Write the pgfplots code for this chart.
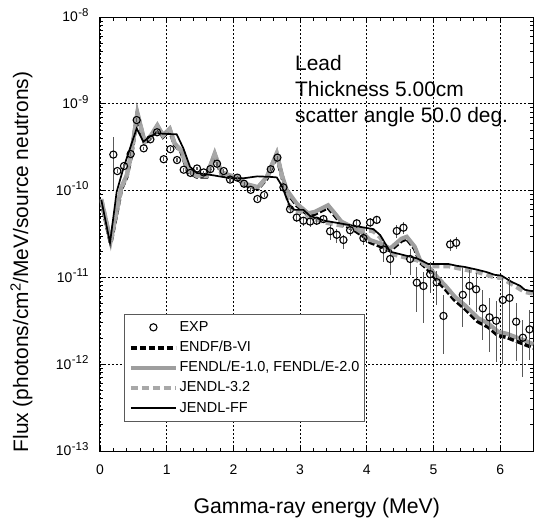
\documentclass[border=0pt]{standalone}
\usepackage{fontspec}
\setmainfont{Liberation Sans}
\usepackage{pgfplots}
\usepackage{pgfplotstable}
\pgfplotsset{compat=1.18}
\definecolor{lgray}{HTML}{9E9E9E}
\definecolor{dgray}{HTML}{A8A8A8}
\newcommand\tl[1]{10\kern0.5bp\smash{\raisebox{5.5bp}{\fontsize{11.5}{13}\selectfont #1}}}
\pgfplotsset{
  exp legend/.style={legend image code/.code={\draw[mark repeat=2,mark phase=2,##1] plot coordinates {(0bp,0bp) (22.5bp,0bp) (45bp,0bp)};}},
  line legend45/.style={legend image code/.code={\draw[##1] (0bp,0bp) -- (45bp,0bp);}},
}

\pgfplotstableread{
x y ep em
0.20 2.6e-10 1.58e-10 1.58e-10
0.26 1.68e-10 8e-12 8e-12
0.36 1.92e-10 9e-12 9e-12
0.46 2.64e-10 1.2e-11 1.2e-11
0.55 6.5e-10 3e-11 3e-11
0.655 3.07e-10 1.5e-11 1.5e-11
0.755 3.9e-10 1.8e-11 1.8e-11
0.855 4.7e-10 2.2e-11 2.2e-11
0.955 2.3e-10 1.1e-11 1.1e-11
1.055 3.0e-10 1.4e-11 1.4e-11
1.155 2.25e-10 1.1e-11 1.1e-11
1.255 1.74e-10 8e-12 8e-12
1.355 1.6e-10 8e-12 8e-12
1.455 1.8e-10 9e-12 9e-12
1.555 1.62e-10 8e-12 8e-12
1.655 1.77e-10 9e-12 9e-12
1.755 2.04e-10 1e-11 1e-11
1.855 1.68e-10 8e-12 8e-12
1.95 1.34e-10 7e-12 7e-12
2.06 1.41e-10 7e-12 7e-12
2.16 1.2e-10 6e-12 6e-12
2.26 1.02e-10 5e-12 5e-12
2.36 8.0e-11 5e-12 5e-12
2.46 8.9e-11 5e-12 5e-12
2.56 1.76e-10 9e-12 9e-12
2.66 2.4e-10 1.2e-11 1.2e-11
2.75 1.09e-10 6e-12 6e-12
2.85 6.1e-11 5e-12 5e-12
2.95 4.9e-11 5e-12 5e-12
3.05 4.5e-11 5e-12 6e-12
3.15 4.4e-11 5e-12 6e-12
3.25 4.5e-11 5e-12 5e-12
3.35 4.7e-11 5e-12 5e-12
3.45 3.4e-11 6e-12 7e-12
3.55 3.1e-11 5e-12 6e-12
3.65 2.7e-11 4e-12 6e-12
3.75 3.5e-11 5e-12 5e-12
3.85 4.2e-11 5e-12 5e-12
3.95 2.84e-11 4e-12 5e-12
4.05 4.3e-11 5e-12 5e-12
4.15 4.6e-11 5e-12 5e-12
4.25 2.1e-11 5e-12 6e-12
4.35 1.63e-11 5e-12 5.6e-12
4.45 3.43e-11 6e-12 6e-12
4.55 3.74e-11 6e-12 6e-12
4.65 1.63e-11 5e-12 5.5e-12
4.75 8.7e-12 4.6e-12 4.7e-12
4.85 7.96e-12 3.7e-12 5e-12
4.95 1.09e-11 4.2e-12 4.3e-12
5.05 8.8e-12 3e-12 4e-12
5.15 3.6e-12 2.7e-12 2.3e-12
5.25 2.4e-11 4e-12 4e-12
5.34 2.5e-11 4e-12 4e-12
5.44 6.3e-12 7e-12 3.6e-12
5.54 8.0e-12 4.2e-12 3.2e-12
5.64 7.3e-12 4e-12 3.3e-12
5.74 4.4e-12 2.8e-12 2.5e-12
5.84 3.47e-12 2.3e-12 2.07e-12
5.94 3.17e-12 2.2e-12 2.1e-12
6.04 5.5e-12 4.3e-12 4.5e-12
6.14 5.8e-12 4.4e-12 3.8e-12
6.24 3.09e-12 2e-12 2e-12
6.34 2.02e-12 1.2e-12 1.3e-12
6.44 2.52e-12 1.7e-12 1.4e-12
}\exptab

\pgfplotstableread{
x y
0.02 7.8e-11
0.15 2.5e-11
0.25 9.7e-11
0.35 1.8e-10
0.45 3.07e-10
0.55 5.2e-10
0.65 3.66e-10
0.75 4.2e-10
0.85 4.57e-10
1.0 4.5e-10
1.15 4.45e-10
1.25 3.07e-10
1.35 1.88e-10
1.45 1.6e-10
1.7 1.5e-10
1.95 1.39e-10
2.16 1.39e-10
2.36 1.46e-10
2.55 1.44e-10
2.65 1.42e-10
2.72 1.16e-10
2.85 6.5e-11
2.92 6.0e-11
3.05 6.0e-11
3.15 5.1e-11
3.37 4.5e-11
3.67 4.1e-11
3.92 3.8e-11
4.1 3.6e-11
4.2 3.08e-11
4.35 1.98e-11
4.55 1.81e-11
4.75 1.66e-11
4.92 1.43e-11
5.22 1.43e-11
5.35 1.36e-11
5.47 1.32e-11
5.67 1.22e-11
5.8 1.15e-11
5.92 1.07e-11
6.02 1.05e-11
6.17 8.9e-12
6.3 8.0e-12
6.37 7.2e-12
6.5 6.9e-12
}\fftab

\pgfplotstableread{
x y
0.02 8.0e-11
0.16 2.6e-11
0.32 1.1e-10
0.40 1.5e-10
0.47 2.7e-10
0.56 8.0e-10
0.67 3.66e-10
0.76 4.3e-10
0.86 5.7e-10
0.945 4.37e-10
1.045 5.2e-10
1.12 3.5e-10
1.22 2.9e-10
1.32 1.72e-10
1.45 1.5e-10
1.6 1.5e-10
1.72 2.7e-10
1.82 1.64e-10
1.95 1.5e-10
2.06 1.44e-10
2.17 1.21e-10
2.27 1.15e-10
2.37 1.1e-10
2.5 1.44e-10
2.65 2.7e-10
2.73 1.5e-10
2.8 1.02e-10
2.95 7.1e-11
3.12 5.5e-11
3.22 5.7e-11
3.42 6.8e-11
3.52 5.5e-11
3.62 4.4e-11
3.82 3.7e-11
3.95 3.2e-11
4.05 2.7e-11
4.2 2.47e-11
4.35 2.16e-11
4.52 2.8e-11
4.6 2.95e-11
4.72 2.26e-11
4.8 1.58e-11
4.95 1.27e-11
5.07 9.8e-12
5.17 8.2e-12
5.32 6.0e-12
5.47 4.8e-12
5.67 3.4e-12
5.82 2.96e-12
5.97 2.37e-12
6.1 2.25e-12
6.35 1.9e-12
6.5 1.7e-12
}\fentab

\pgfplotstableread{
x y
0.02 7.6e-11
0.16 2.5e-11
0.32 1.05e-10
0.40 1.45e-10
0.47 2.6e-10
0.56 7.6e-10
0.67 3.5e-10
0.76 4.1e-10
0.86 5.4e-10
0.945 4.2e-10
1.045 5.0e-10
1.12 3.4e-10
1.22 2.8e-10
1.32 1.65e-10
1.45 1.45e-10
1.6 1.45e-10
1.72 2.5e-10
1.82 1.58e-10
1.95 1.45e-10
2.06 1.38e-10
2.17 1.17e-10
2.27 1.1e-10
2.37 1.06e-10
2.5 1.38e-10
2.65 2.55e-10
2.73 1.45e-10
2.8 9.8e-11
2.95 6.8e-11
3.12 5.3e-11
3.22 5.4e-11
3.42 6.4e-11
3.52 5.2e-11
3.62 4.2e-11
3.82 3.5e-11
3.95 3.0e-11
4.05 2.55e-11
4.2 2.3e-11
4.35 2.05e-11
4.52 2.65e-11
4.6 2.8e-11
4.72 2.15e-11
4.8 1.5e-11
4.95 1.18e-11
5.07 9.0e-12
5.17 7.5e-12
5.32 5.5e-12
5.47 4.4e-12
5.67 3.1e-12
5.82 2.7e-12
5.97 2.15e-12
6.1 2.05e-12
6.35 1.72e-12
6.5 1.55e-12
}\endftab

\pgfplotstableread{
x y
0.02 7.9e-11
0.16 2.6e-11
0.32 1.08e-10
0.40 1.48e-10
0.47 2.65e-10
0.56 7.8e-10
0.67 3.6e-10
0.76 4.2e-10
0.86 5.5e-10
0.945 4.3e-10
1.045 5.1e-10
1.12 3.45e-10
1.22 2.85e-10
1.32 1.7e-10
1.45 1.48e-10
1.6 1.48e-10
1.72 2.6e-10
1.82 1.6e-10
1.95 1.48e-10
2.06 1.42e-10
2.17 1.2e-10
2.27 1.13e-10
2.37 1.08e-10
2.5 1.42e-10
2.65 2.65e-10
2.73 1.45e-10
2.85 6.3e-11
2.92 5.8e-11
3.05 5.7e-11
3.15 4.9e-11
3.37 4.3e-11
3.67 3.9e-11
3.92 3.6e-11
4.1 3.4e-11
4.2 2.9e-11
4.35 1.88e-11
4.55 1.72e-11
4.75 1.58e-11
4.92 1.35e-11
5.22 1.35e-11
5.47 1.23e-11
5.67 1.15e-11
5.92 1.0e-11
6.02 9.9e-12
6.17 8.4e-12
6.37 6.8e-12
6.5 6.5e-12
}\jtwotab

\begin{document}
\begin{tikzpicture}
\useasboundingbox (-100bp,-71bp) rectangle (439bp,451bp);
\begin{axis}[
  scale only axis, width=433.5bp, height=434bp,
  xmin=0, xmax=6.5, ymode=log, ymin=1e-13, ymax=1e-8,
  xtick={0,1,2,3,4,5,6}, minor x tick num=4,
  ytick={1e-13,1e-12,1e-11,1e-10,1e-9,1e-8},
  yticklabels={\tl{-13},\tl{-12},\tl{-11},\tl{-10},\tl{-9},\tl{-8}},
  xticklabels={0,1,2,3,4,5,6},
  tick align=inside,
  major tick length=6bp, minor tick length=3.5bp,
  every tick/.style={black, line width=0.8bp},
  axis line style={line width=1bp},
  grid=major,
  major grid style={black, line width=0.7bp, dash pattern=on 2bp off 2bp},
  tick label style={font=\fontsize{14}{17}\selectfont},
  xticklabel style={yshift=-10bp},
  yticklabel style={xshift=-8bp},
  xlabel={Gamma-ray energy (MeV)},
  ylabel={Flux (photons/cm\textsuperscript{2}/MeV/source neutrons)},
  xlabel style={font=\fontsize{21.3}{25}\selectfont, at={(axis description cs:0.5,-0.1429)}, anchor=base},
  ylabel style={font=\fontsize{21}{25}\selectfont, at={(axis description cs:-0.166,0.4355)}, anchor=base},
  legend cell align=left,
  line legend45,
  legend style={at={(axis description cs:0.056,0.0675)}, anchor=south west,
    draw=black!65, line width=1bp, fill=white,
    font=\fontsize{14.5}{16}\selectfont, inner xsep=4bp, inner ysep=3bp,
    row sep=0bp,
    nodes={text height=11bp, text depth=3bp, inner ysep=3.1bp, inner xsep=1.5bp}},
]
\addlegendimage{only marks, mark=o, mark size=3.6bp, mark options={fill=white, draw=black, line width=1.1bp}, exp legend}
\addlegendentry{EXP}
\addplot[black, line width=4bp, dash pattern=on 6.5bp off 2.5bp, no marks] table[x=x,y=y] {\endftab};
\addlegendentry{ENDF/B-VI}
\addplot[lgray, line width=4bp, no marks] table[x=x,y=y] {\fentab};
\addlegendentry{FENDL/E-1.0, FENDL/E-2.0}
\addplot[dgray, line width=4.3bp, dash pattern=on 7bp off 4bp, no marks] table[x=x,y=y] {\jtwotab};
\addlegendentry{JENDL-3.2}
\addplot[black, line width=1.7bp, no marks] table[x=x,y=y] {\fftab};
\addlegendentry{JENDL-FF}
\addplot[forget plot, only marks, mark=o, mark size=3.6bp, mark options={fill=white, draw=black, line width=1.1bp},
  error bars/.cd, y dir=both, y explicit, error mark=none,
  error bar style={black!65, line width=1.1bp}]
  table[x=x, y=y, y error plus=ep, y error minus=em] {\exptab};
\node[anchor=base west, font=\fontsize{21}{25}\selectfont] at (axis description cs:0.4422,0.8779) {Lead};
\node[anchor=base west, font=\fontsize{21}{25}\selectfont] at (axis description cs:0.4422,0.818) {Thickness 5.00cm};
\node[anchor=base west, font=\fontsize{21}{25}\selectfont] at (axis description cs:0.4422,0.758) {scatter angle 50.0 deg.};
\end{axis}
\end{tikzpicture}
\end{document}
